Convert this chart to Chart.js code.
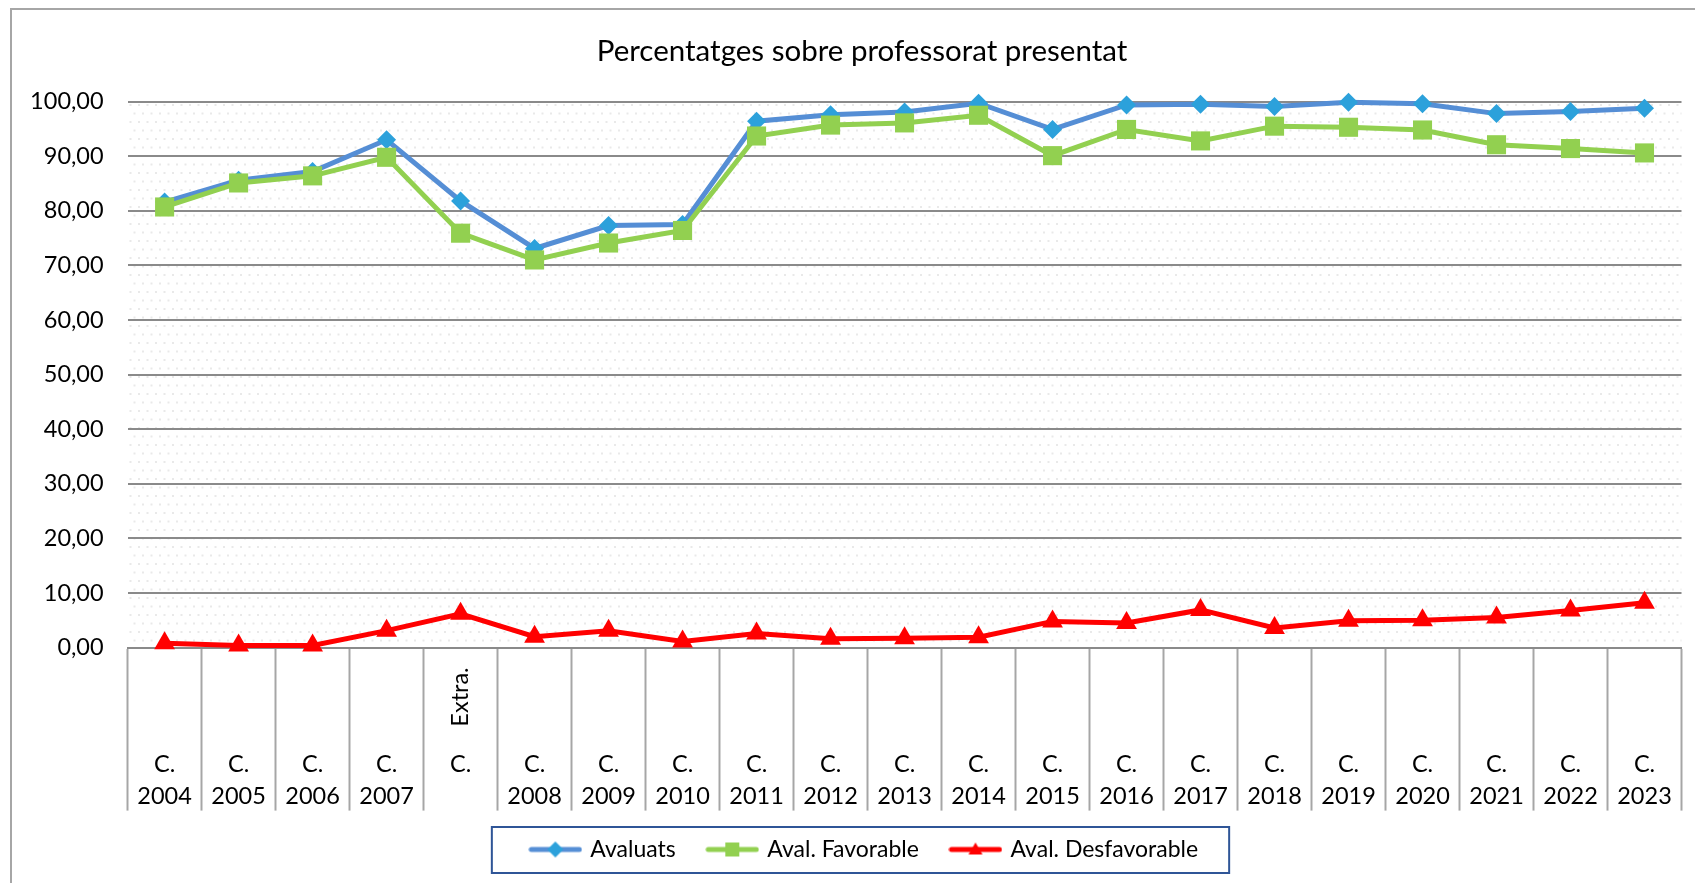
<!DOCTYPE html>
<html>
<head>
<meta charset="utf-8">
<script src="https://cdn.jsdelivr.net/npm/chart.js@4"></script>
<style>
  html, body { margin: 0; padding: 0; background: #fff; overflow: hidden; }
  canvas { display: block; }
</style>
</head>
<body>
<canvas id="myChart" width="1695" height="883"></canvas>
<script>
const categories = ['C. 2004', 'C. 2005', 'C. 2006', 'C. 2007', 'C. Extra.', 'C. 2008', 'C. 2009', 'C. 2010',
    'C. 2011', 'C. 2012', 'C. 2013', 'C. 2014', 'C. 2015', 'C. 2016', 'C. 2017', 'C. 2018', 'C. 2019',
    'C. 2020', 'C. 2021', 'C. 2022', 'C. 2023'];
const avaluats = [81.6, 85.6, 87.2, 93.0, 81.8, 73.1, 77.3, 77.5, 96.4, 97.6, 98.1, 99.7, 94.9, 99.4,
    99.5, 99.1, 99.9, 99.6, 97.8, 98.2, 98.8];
const favorable = [80.7, 85.1, 86.4, 89.8, 75.9, 71.0, 74.1, 76.4, 93.7, 95.7, 96.1, 97.5, 90.1, 94.9,
    92.8, 95.5, 95.3, 94.8, 92.1, 91.4, 90.6];
const desfavorable = [0.8, 0.4, 0.4, 3.1, 6.2, 2.0, 3.1, 1.1, 2.6, 1.6, 1.7, 1.9, 4.8, 4.5,
    6.9, 3.6, 4.9, 5.0, 5.5, 6.8, 8.2];
const seriesNames = ['Avaluats', 'Aval. Favorable', 'Aval. Desfavorable'];
const yTicks = [0, 10, 20, 30, 40, 50, 60, 70, 80, 90, 100];

const FONT = 'Lato, "Open Sans", sans-serif';

// petit dibuix per a la llegenda: línia + marcador
function legendIcon(lineColor, markColor, shape) {
    const c = document.createElement('canvas');
    c.width = 54; c.height = 24;
    const g = c.getContext('2d');
    g.strokeStyle = lineColor;
    g.lineWidth = 5;
    g.lineCap = 'round';
    g.beginPath(); g.moveTo(3, 12); g.lineTo(51, 12); g.stroke();
    g.fillStyle = markColor;
    g.beginPath();
    if (shape === 'diamond') {
        g.moveTo(27, 4); g.lineTo(35, 12); g.lineTo(27, 20); g.lineTo(19, 12);
    } else if (shape === 'square') {
        g.rect(20, 5, 14, 14);
    } else {
        g.moveTo(27, 5); g.lineTo(34, 17); g.lineTo(20, 17);
    }
    g.closePath(); g.fill();
    return c;
}
const icons = [
    legendIcon('#558ED5', '#2CA1DB', 'diamond'),
    legendIcon('#92D050', '#92D050', 'square'),
    legendIcon('#FF0000', '#FF0000', 'triangle')
];

// fons puntejat de l'àrea del gràfic
function dotPattern(ctx) {
    const c = document.createElement('canvas');
    c.width = 17; c.height = 17;
    const g = c.getContext('2d');
    g.fillStyle = '#e9e9e9';
    [[3, 3], [11.5, 3], [7, 11.5], [15.5, 11.5]].forEach(p => g.fillRect(p[0] - 1, p[1] - 1, 2, 2));
    return ctx.createPattern(c, 'repeat');
}

const extrasPlugin = {
    id: 'extras',
    afterLayout(chart) {
        // el marc original és més ample: títol i llegenda una mica a la dreta
        chart.legend.left += 16;
        chart.legend.right += 16;
        chart.titleBlock.left += 13;
        chart.titleBlock.right += 13;
    },
    beforeDatasetsDraw(chart) {
        const ctx = chart.ctx;
        const a = chart.chartArea;
        ctx.save();
        ctx.globalCompositeOperation = 'destination-over';
        ctx.fillStyle = dotPattern(ctx);
        ctx.fillRect(a.left, a.top, a.right - a.left, a.bottom - a.top);
        ctx.restore();
    },
    afterDraw(chart) {
        const ctx = chart.ctx;
        ctx.save();
        // marc exterior
        ctx.strokeStyle = '#A6A6A6';
        ctx.lineWidth = 2;
        ctx.strokeRect(11, 9, 1720, 900);
        // text vertical "Extra."
        const xs = chart.scales.x;
        categories.forEach((c, i) => {
            const parts = c.split(' ');
            if (parts[1] === 'Extra.') {
                ctx.translate(xs.getPixelForValue(i), 697);
                ctx.rotate(-Math.PI / 2);
                ctx.fillStyle = '#000';
                ctx.font = '23.5px ' + FONT;
                ctx.textAlign = 'center';
                ctx.textBaseline = 'middle';
                ctx.fillText(parts[1], 0, 0);
                ctx.setTransform(1, 0, 0, 1, 0, 0);
            }
        });
        // caixa de la llegenda
        const lg = chart.legend;
        const hb = lg.legendHitBoxes;
        if (hb && hb.length) {
            const l = hb[0].left - 40;
            const r = hb[hb.length - 1].left + hb[hb.length - 1].width + 31;
            ctx.strokeStyle = '#2F5597';
            ctx.lineWidth = 2;
            ctx.strokeRect(l, 827, r - l, 46);
        }
        ctx.restore();
    }
};

const ctx = document.getElementById('myChart').getContext('2d');
new Chart(ctx, {
    type: 'line',
    data: {
        labels: categories,
        datasets: [{
            label: seriesNames[0],
            data: avaluats,
            borderColor: '#558ED5',
            backgroundColor: '#2CA1DB',
            pointBackgroundColor: '#2CA1DB',
            pointBorderWidth: 0,
            pointStyle: 'rectRot',
            pointRadius: 9.5,
            borderWidth: 5,
            order: 3,
            clip: false
        }, {
            label: seriesNames[1],
            data: favorable,
            borderColor: '#92D050',
            backgroundColor: '#92D050',
            pointBackgroundColor: '#92D050',
            pointBorderWidth: 0,
            pointStyle: 'rect',
            pointRadius: 13.5,
            borderWidth: 5,
            order: 2,
            clip: false
        }, {
            label: seriesNames[2],
            data: desfavorable,
            borderColor: '#FF0000',
            backgroundColor: '#FF0000',
            pointBackgroundColor: '#FF0000',
            pointBorderWidth: 0,
            pointStyle: 'triangle',
            pointRadius: 12,
            borderWidth: 5,
            order: 1,
            clip: false
        }]
    },
    options: {
        responsive: false,
        animation: false,
        devicePixelRatio: 1,
        layout: { padding: { left: 11, right: 8, top: 9, bottom: 12 } },
        scales: {
            x: {
                offset: true,
                grid: {
                    offset: true,
                    drawOnChartArea: false,
                    drawTicks: true,
                    tickLength: 163,
                    tickWidth: 2,
                    tickColor: '#A6A6A6'
                },
                border: { display: true, color: '#8A8A8A', width: 2 },
                ticks: {
                    padding: -62.6,
                    maxRotation: 0,
                    autoSkip: false,
                    color: '#000',
                    font: { family: FONT, size: 23.5, lineHeight: 1.36 },
                    callback: function (value, index) {
                        const parts = categories[index].split(' ');
                        if (parts[1] === 'Extra.') return [parts[0], ''];
                        return parts;
                    }
                },
                afterFit(scale) { scale.height = 157.4; }
            },
            y: {
                min: 0,
                max: 100,
                afterBuildTicks(scale) { scale.ticks = yTicks.map(v => ({ value: v })); },
                grid: { color: '#8A8A8A', lineWidth: 2, drawTicks: false },
                border: { display: false },
                ticks: {
                    padding: 24,
                    color: '#000',
                    font: { family: FONT, size: 23.5 },
                    callback: v => v.toFixed(2).replace('.', ',')
                },
                afterFit(scale) { scale.width = 116.6; }
            }
        },
        plugins: {
            legend: {
                display: true,
                position: 'bottom',
                labels: {
                    usePointStyle: true,
                    pointStyleWidth: 47,
                    padding: 33,
                    color: '#000',
                    font: { family: FONT, size: 23 },
                    generateLabels: chart => chart.data.datasets.map((ds, i) => ({
                        text: ds.label,
                        pointStyle: icons[i],
                        fillStyle: ds.borderColor,
                        strokeStyle: ds.borderColor,
                        lineWidth: 0,
                        hidden: false,
                        datasetIndex: i,
                        fontColor: '#000'
                    }))
                }
            },
            title: {
                display: true,
                text: 'Percentatges sobre professorat presentat',
                color: '#000',
                font: { family: FONT, size: 29.5, weight: 'normal', lineHeight: 1.2 },
                padding: { top: 24.3, bottom: 32.9 }
            },
            tooltip: { enabled: false }
        }
    },
    plugins: [extrasPlugin]
});
</script>
</body>
</html>
